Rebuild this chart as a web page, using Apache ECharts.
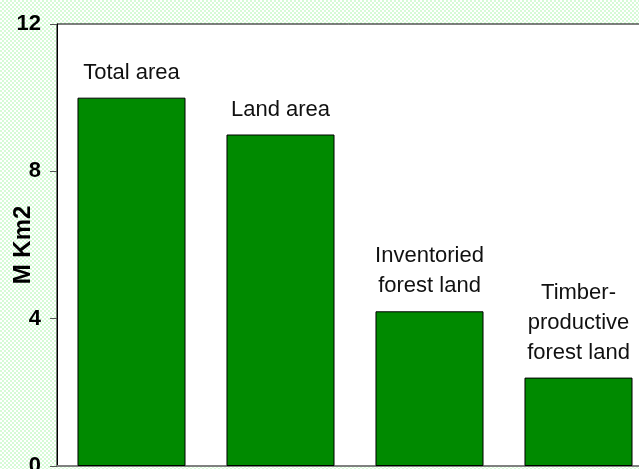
<!DOCTYPE html>
<html>
<head>
<meta charset="utf-8">
<script src="https://cdn.jsdelivr.net/npm/echarts@6/dist/echarts.min.js"></script>
<style>
  html, body { margin: 0; padding: 0; }
  #chart {
    width: 639px;
    height: 469px;
    background: repeating-conic-gradient(#d6fad6 0% 25%, #ffffff 0% 50%) 0 0 / 4px 4px;
  }
</style>
</head>
<body>
<div id="chart"></div>
<script>
const categories = ["Total area", "Land area", "Inventoried\nforest land", "Timber-\nproductive\nforest land"];
const areaValues = [10, 9, 4.2, 2.4];
const yTicks = [0, 4, 8, 12];

const chart = echarts.init(document.getElementById("chart"));
chart.setOption({
  backgroundColor: "transparent",
  animation: false,
  grid: {
    left: 57, top: 24, bottom: 3, right: -14,
    show: true,
    backgroundColor: "#ffffff",
    borderColor: "#000000",
    borderWidth: 1,
    outerBoundsMode: "none"
  },
  xAxis: {
    type: "category",
    data: categories,
    axisLine: { lineStyle: { color: "#808080", width: 2 } },
    axisTick: { show: false },
    axisLabel: { show: false }
  },
  yAxis: {
    type: "value",
    min: yTicks[0],
    max: yTicks[yTicks.length - 1],
    interval: 4,
    name: "M Km2",
    nameLocation: "middle",
    nameGap: 22,
    nameMoveOverlap: false,
    nameTextStyle: { fontFamily: "Liberation Sans", fontWeight: "bold", fontSize: 24, color: "#000" },
    axisLine: { show: true, lineStyle: { color: "#000", width: 1 } },
    axisTick: { show: true, length: 7, lineStyle: { color: "#555" } },
    axisLabel: { fontFamily: "Liberation Sans", fontWeight: "bold", fontSize: 22, color: "#000", margin: 16 },
    splitLine: { show: false }
  },
  series: [{
    type: "bar",
    data: areaValues,
    barCategoryGap: "27.5%",
    itemStyle: { color: "#008a00", borderColor: "#000", borderWidth: 1 },
    label: {
      show: true,
      position: "top",
      distance: 10,
      formatter: "{b}",
      fontFamily: "Liberation Sans",
      fontSize: 22,
      lineHeight: 30,
      color: "#111"
    }
  }]
});
</script>
</body>
</html>
